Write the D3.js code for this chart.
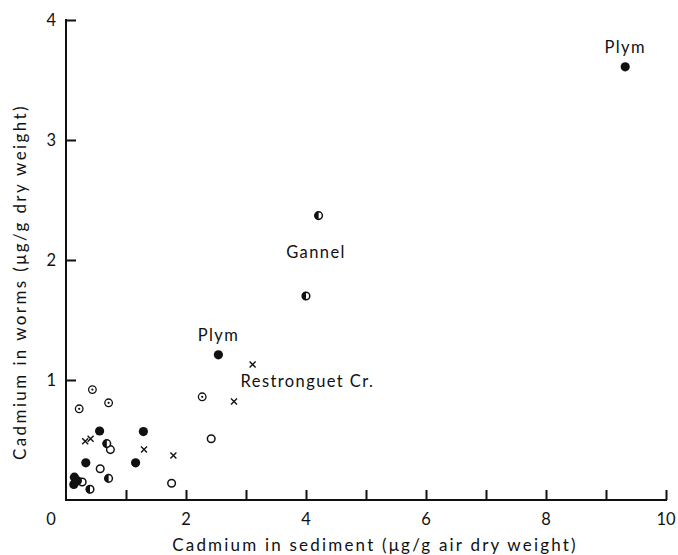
<!DOCTYPE html>
<html>
<head>
<meta charset="utf-8">
<script src="https://cdn.jsdelivr.net/npm/d3@7"></script>
<style>
  html, body { margin: 0; padding: 0; background: #fff; }
  svg text { font-family: Lato, "Open Sans", sans-serif; fill: #111; }
</style>
</head>
<body>
<svg id="chart" width="678" height="555"></svg>
<script>
// Cadmium in sediment (x) vs cadmium in worms (y), grouped by marker type
const filledPts = [[0.56, 0.575], [1.29, 0.57], [0.33, 0.31], [1.16, 0.31], [0.14, 0.19], [0.13, 0.13], [0.19, 0.16], [2.54, 1.21], [9.32, 3.61]];
const openPts = [[0.74, 0.42], [0.57, 0.26], [0.27, 0.15], [1.76, 0.14], [2.42, 0.51]];
const dottedPts = [[0.44, 0.92], [0.71, 0.81], [0.22, 0.76], [2.27, 0.86]];
const halfPts = [[4.21, 2.37], [4.0, 1.70], [0.68, 0.47], [0.71, 0.18], [0.4, 0.09]];
const crossPts = [[0.32, 0.49], [0.41, 0.51], [1.3, 0.42], [1.79, 0.37], [2.8, 0.82], [3.11, 1.13]];

const xTicks = [1, 2, 3, 4, 5, 6, 7, 8, 9, 10];
const xTickLabels = [2, 4, 6, 8, 10];
const yTicks = [1, 2, 3, 4];

// site labels, each anchored to a data point
const siteLabels = [
  { text: "Plym", at: [9.32, 3.61], dx: 0, dy: -14, anchor: "middle" },
  { text: "Gannel", at: [4.0, 1.70], dx: 10, dy: -38, anchor: "middle" },
  { text: "Plym", at: [2.54, 1.21], dx: 0, dy: -14, anchor: "middle" },
  { text: "Restronguet Cr.", at: [3.11, 1.13], dx: -12, dy: 23, anchor: "start" }
];

const xTitle = "Cadmium in sediment (\u03bcg/g air dry weight)";
const yTitle = "Cadmium in worms (\u03bcg/g dry weight)";

const svg = d3.select("#chart");
const x = d3.scaleLinear().domain([0, 10]).range([66, 666]);
const y = d3.scaleLinear().domain([0, 4]).range([500, 20]);

const ink = "#111";

// axes
const xAxis = d3.axisBottom(x).tickValues(xTicks).tickSize(-10).tickFormat("").tickSizeOuter(0);
const gx = svg.append("g").attr("transform", `translate(0,${y(0)})`).call(xAxis);
const yAxis = d3.axisLeft(y).tickValues(yTicks).tickSize(-10).tickFormat("").tickSizeOuter(0);
const gy = svg.append("g").attr("transform", `translate(${x(0)},0)`).call(yAxis);
[gx, gy].forEach(g => {
  g.selectAll("path, line").attr("stroke", ink).attr("stroke-width", 2);
});
gx.select(".domain").attr("d", `M${x(0) - 1},0H${x(10) + 1}`);
gy.select(".domain").attr("d", `M0,${y(0) + 1}V${y(4) - 1}`);

// tick labels
svg.append("g").selectAll("text").data(xTickLabels).join("text")
  .attr("x", d => x(d)).attr("y", y(0) + 25)
  .attr("text-anchor", "middle").attr("font-size", 16.5).text(d => d);
svg.append("text").attr("x", x(0) - 15).attr("y", y(0) + 25)
  .attr("text-anchor", "middle").attr("font-size", 16.5).text("0");
svg.append("g").selectAll("text").data(yTicks).join("text")
  .attr("x", x(0) - 10).attr("y", d => y(d) + 6)
  .attr("text-anchor", "end").attr("font-size", 16.5).text(d => d);

// axis titles
svg.append("text").attr("x", 375).attr("y", 551).attr("text-anchor", "middle")
  .attr("font-size", 17).attr("letter-spacing", 2.2).text(xTitle);
svg.append("text").attr("transform", "translate(26,282) rotate(-90)").attr("text-anchor", "middle")
  .attr("font-size", 17).attr("letter-spacing", 2.4).text(yTitle);

// markers
const pts = svg.append("g");
pts.selectAll(".open").data(openPts).join("circle").attr("class", "open")
  .attr("cx", d => x(d[0])).attr("cy", d => y(d[1])).attr("r", 3.8)
  .attr("fill", "#fff").attr("stroke", ink).attr("stroke-width", 1.5);
pts.selectAll(".dotted").data(dottedPts).join("g").attr("class", "dotted")
  .attr("transform", d => `translate(${x(d[0])},${y(d[1])})`)
  .call(g => {
    g.append("circle").attr("r", 3.8).attr("fill", "#fff").attr("stroke", ink).attr("stroke-width", 1.3);
    g.append("circle").attr("r", 1.1).attr("fill", ink);
  });
pts.selectAll(".half").data(halfPts).join("g").attr("class", "half")
  .attr("transform", d => `translate(${x(d[0])},${y(d[1])})`)
  .call(g => {
    g.append("circle").attr("r", 3.8).attr("fill", "#fff").attr("stroke", ink).attr("stroke-width", 1.5);
    g.append("path").attr("d", d3.arc()({ innerRadius: 0, outerRadius: 4.2, startAngle: Math.PI, endAngle: 2 * Math.PI })).attr("fill", ink);
  });
pts.selectAll(".filled").data(filledPts).join("circle").attr("class", "filled")
  .attr("cx", d => x(d[0])).attr("cy", d => y(d[1])).attr("r", 4.6).attr("fill", ink);
pts.selectAll(".cross").data(crossPts).join("path").attr("class", "cross")
  .attr("transform", d => `translate(${x(d[0])},${y(d[1])})`)
  .attr("d", "M-3,-3L3,3M3,-3L-3,3").attr("stroke", ink).attr("stroke-width", 1.4);

// site names
svg.append("g").selectAll("text").data(siteLabels).join("text")
  .attr("x", d => x(d.at[0]) + d.dx).attr("y", d => y(d.at[1]) + d.dy)
  .attr("text-anchor", d => d.anchor).attr("font-size", 16.5).attr("letter-spacing", 1.4)
  .text(d => d.text);
</script>
</body>
</html>
